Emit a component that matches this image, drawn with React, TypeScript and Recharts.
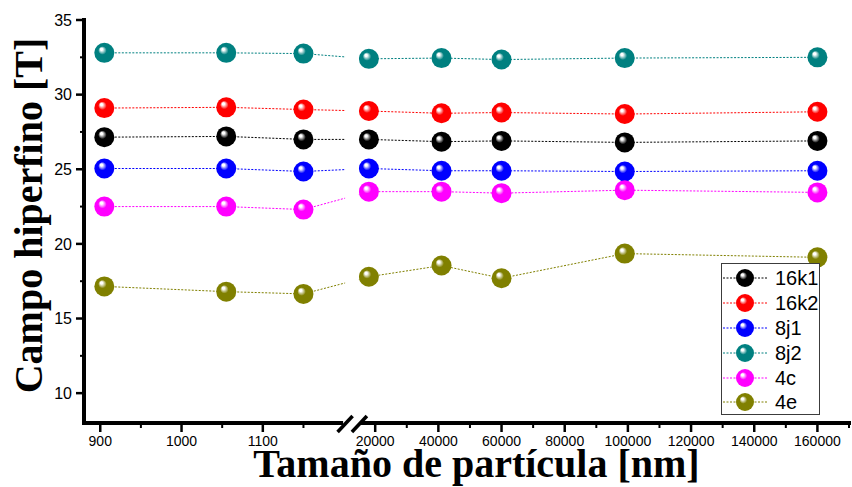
import { LineChart, Line, XAxis, YAxis, Legend, Label } from 'recharts';

// Tamaño de partícula (nm) de cada muestra
const SIZES = [905, 1055, 1150, 18000, 41000, 60000, 99000, 160000];

// Campo hiperfino (T) por sitio
const FIELD_16K1 = [27.15, 27.2, 27.0, 27.0, 26.85, 26.9, 26.8, 26.9];
const FIELD_16K2 = [29.1, 29.15, 29.0, 28.9, 28.75, 28.8, 28.7, 28.85];
const FIELD_8J1 = [25.05, 25.05, 24.85, 25.05, 24.9, 24.9, 24.85, 24.9];
const FIELD_8J2 = [32.8, 32.8, 32.75, 32.4, 32.45, 32.35, 32.45, 32.5];
const FIELD_4C = [22.5, 22.5, 22.3, 23.5, 23.5, 23.4, 23.6, 23.45];
const FIELD_4E = [17.15, 16.8, 16.65, 17.8, 18.55, 17.7, 19.35, 19.1];

const SITES = ['16k1', '16k2', '8j1', '8j2', '4c', '4e'];
const SITE_VALUES = [FIELD_16K1, FIELD_16K2, FIELD_8J1, FIELD_8J2, FIELD_4C, FIELD_4E];
const SITE_COLORS = ['#000000', '#ff0000', '#0000ff', '#008080', '#ff00ff', '#808000'];

// ejes
const X_DOMAIN = [880, 170000];
const X_BREAK = [1200, 15000];
const X_MAJOR = [900, 1000, 1100, 20000, 40000, 60000, 80000, 100000, 120000, 140000, 160000];
const X_MINOR = [950, 1050, 1150, 30000, 50000, 70000, 90000, 110000, 130000, 150000, 170000];
const Y_DOMAIN = [8, 35];
const Y_MAJOR = [10, 15, 20, 25, 30, 35];
const Y_MINOR = [12.5, 17.5, 22.5, 27.5, 32.5];
const TOP_TICKS = [0.5, 1.5, 2.5, 3.5, 4.5, 5.5, 6.5, 7.5, 8.5, 9.5, 10.5, 11.5, 12.5];

const W = 852;
const H = 487;
const MARGIN = { top: 20, right: 3, left: 0, bottom: 0 };
const Y_WIDTH = 84;
const X_HEIGHT = 64;
const SPLIT = 0.34; // fracción del ancho para el tramo izquierdo
const GAP = 0.02; // hueco del corte

const X_TICK_SIZE = 9;
const X_TICK_MARGIN = 4;
const Y_TICK_SIZE = 8;
const Y_TICK_MARGIN = 4;

const SANS = "'Liberation Sans', Arial, sans-serif";
const SERIF = "'Liberation Serif', 'Times New Roman', serif";
const AXIS_LINE = { stroke: '#000', strokeWidth: 4, strokeLinecap: 'square' as const };

const rows = SIZES.map((size, i) => {
  const row: Record<string, number> = { size };
  SITES.forEach((s, k) => {
    row[s] = SITE_VALUES[k][i];
  });
  return row;
});

// escala lineal a tramos con un corte entre X_BREAK[0] y X_BREAK[1]
function brokenScale(lo: number, hi: number, split: number, gap: number): any {
  let dom = [0, 1];
  let rng = [0, 1];
  const s: any = (v: number) => {
    const [d0, d1] = dom;
    const [r0, r1] = rng;
    const w = r1 - r0;
    const leftEnd = r0 + w * split;
    const rightStart = leftEnd + w * gap;
    if (v <= lo) return r0 + ((v - d0) / (lo - d0)) * (leftEnd - r0);
    return rightStart + ((v - hi) / (d1 - hi)) * (r1 - rightStart);
  };
  s.domain = (d?: number[]) => {
    if (!d) return dom.slice();
    dom = [Number(d[0]), Number(d[d.length - 1])];
    return s;
  };
  s.range = (r?: number[]) => {
    if (!r) return rng.slice();
    rng = [Number(r[0]), Number(r[r.length - 1])];
    return s;
  };
  s.copy = () => brokenScale(lo, hi, split, gap).domain(dom).range(rng);
  s.ticks = () => [...X_MAJOR];
  s.tickFormat = () => (v: number) => String(v);
  s.invert = (px: number) => {
    const [d0, d1] = dom;
    const [r0, r1] = rng;
    const w = r1 - r0;
    const leftEnd = r0 + w * split;
    const rightStart = leftEnd + w * gap;
    if (px <= leftEnd) return d0 + ((px - r0) / (leftEnd - r0)) * (lo - d0);
    return hi + ((px - rightStart) / (r1 - rightStart)) * (d1 - hi);
  };
  return s;
}

const sizeScale = brokenScale(X_BREAK[0], X_BREAK[1], SPLIT, GAP);

// geometría del área de trazado para dibujar el corte
const PLOT_LEFT = MARGIN.left + Y_WIDTH;
const PLOT_RIGHT = W - MARGIN.right;
const PLOT_TOP = MARGIN.top;
const PLOT_BOTTOM = H - MARGIN.bottom - X_HEIGHT;
const breakScale = brokenScale(X_BREAK[0], X_BREAK[1], SPLIT, GAP).domain(X_DOMAIN).range([PLOT_LEFT, PLOT_RIGHT]);
const BREAK_X0 = breakScale(X_BREAK[0]);
const BREAK_X1 = breakScale(X_BREAK[1]);

function renderXTick(props: any) {
  const { x, y, payload } = props;
  const major = X_MAJOR.includes(payload.value);
  const axisY = y - X_TICK_SIZE - X_TICK_MARGIN;
  return (
    <g key={`xt-${payload.value}`}>
      <line
        x1={x}
        x2={x}
        y1={axisY}
        y2={axisY + (major ? X_TICK_SIZE : 5)}
        stroke="#000"
        strokeWidth={major ? 2.5 : 2}
      />
      {major && (
        <text x={x} y={y} dy="0.71em" textAnchor="middle" fontSize={14} fontFamily={SANS} fill="#000">
          {payload.value}
        </text>
      )}
    </g>
  );
}

function renderYTick(props: any) {
  const { x, y, payload } = props;
  const major = Y_MAJOR.includes(payload.value);
  const axisX = x + Y_TICK_SIZE + Y_TICK_MARGIN;
  return (
    <g key={`yt-${payload.value}`}>
      <line
        x1={axisX - (major ? Y_TICK_SIZE : 4)}
        x2={axisX}
        y1={y}
        y2={y}
        stroke="#000"
        strokeWidth={major ? 2.5 : 2}
      />
      {major && (
        <text x={x} y={y} dy="0.36em" textAnchor="end" fontSize={16} fontFamily={SANS} fill="#000">
          {payload.value}
        </text>
      )}
    </g>
  );
}

function XTitle(props: any) {
  const vb = props.viewBox;
  return (
    <text
      x={vb.x + vb.width / 2 + 10}
      y={vb.y + 54}
      textAnchor="middle"
      fontFamily={SERIF}
      fontWeight="bold"
      fontSize={40}
      fill="#000"
    >
      Tamaño de partícula [nm]
    </text>
  );
}

function YTitle(props: any) {
  const vb = props.viewBox;
  const cx = vb.x + 42;
  const cy = vb.y + vb.height / 2 - 6;
  return (
    <text
      x={cx}
      y={cy}
      transform={`rotate(-90, ${cx}, ${cy})`}
      textAnchor="middle"
      fontFamily={SERIF}
      fontWeight="bold"
      fontSize={40}
      fill="#000"
    >
      Campo hiperfino [T]
    </text>
  );
}

function SiteLegend() {
  return (
    <div
      style={{
        width: 99,
        height: 152,
        boxSizing: 'border-box',
        border: '1px solid #3c3c3c',
        background: '#fff',
        paddingTop: 2,
      }}
    >
      {SITES.map((s, i) => (
        <div key={s} style={{ display: 'flex', alignItems: 'center', height: 24.8 }}>
          <svg width={50} height={24} style={{ flex: 'none' }}>
            <line x1={1} x2={46} y1={12} y2={12} stroke={SITE_COLORS[i]} strokeWidth={1} strokeDasharray="2 1.5" />
            <circle cx={23} cy={12} r={9} fill={`url(#ball-${i})`} />
          </svg>
          <span style={{ fontFamily: SANS, fontSize: 20, lineHeight: '24px', marginLeft: 3, color: '#000' }}>{s}</span>
        </div>
      ))}
    </div>
  );
}

export default function App() {
  return (
    <div style={{ position: 'absolute', left: 0, top: 0, width: W, height: H, background: '#fff' }}>
      <LineChart width={W} height={H} data={rows} margin={MARGIN}>
        <defs>
          {SITE_COLORS.map((c, i) => (
            <radialGradient key={c} id={`ball-${i}`} cx="50%" cy="50%" r="50%" fx="34%" fy="30%">
              <stop offset="0%" stopColor="#ffffff" />
              <stop offset="12%" stopColor="#ffffff" stopOpacity={0.95} />
              <stop offset="42%" stopColor={c} />
              <stop offset="100%" stopColor={c} />
            </radialGradient>
          ))}
        </defs>
        <XAxis
          xAxisId="x"
          dataKey="size"
          type="number"
          scale={sizeScale}
          domain={X_DOMAIN}
          allowDataOverflow
          ticks={[...X_MAJOR, ...X_MINOR]}
          interval={0}
          height={X_HEIGHT}
          tickSize={X_TICK_SIZE}
          tickMargin={X_TICK_MARGIN}
          tickLine={false}
          tick={renderXTick}
          axisLine={AXIS_LINE}
        >
          <Label content={XTitle} />
        </XAxis>
        <XAxis
          xAxisId="top"
          orientation="top"
          type="number"
          domain={[0, 13]}
          ticks={TOP_TICKS}
          interval={0}
          height={0}
          tickSize={3}
          tickFormatter={() => ''}
          tickLine={{ stroke: '#000', strokeWidth: 1.5 }}
          axisLine={AXIS_LINE}
        />
        <YAxis
          yAxisId="y"
          type="number"
          domain={Y_DOMAIN}
          allowDataOverflow
          ticks={[...Y_MAJOR, ...Y_MINOR]}
          interval={0}
          width={Y_WIDTH}
          tickSize={Y_TICK_SIZE}
          tickMargin={Y_TICK_MARGIN}
          tickLine={false}
          tick={renderYTick}
          axisLine={AXIS_LINE}
        >
          <Label content={YTitle} />
        </YAxis>
        <YAxis
          yAxisId="frame"
          orientation="right"
          type="number"
          domain={Y_DOMAIN}
          width={0}
          tick={false}
          tickLine={false}
          axisLine={AXIS_LINE}
        />
        {SITES.map((s, i) => (
          <Line
            key={s}
            xAxisId="x"
            yAxisId="y"
            type="linear"
            dataKey={s}
            name={s}
            stroke={SITE_COLORS[i]}
            strokeWidth={1}
            strokeDasharray="2 1.5"
            dot={(p: any) => <circle key={`${s}-${p.index}`} cx={p.cx} cy={p.cy} r={10} fill={`url(#ball-${i})`} />}
            activeDot={false}
            isAnimationActive={false}
          />
        ))}
        <Legend
          layout="vertical"
          align="center"
          verticalAlign="middle"
          content={() => <SiteLegend />}
          wrapperStyle={{ left: 721, top: 263, width: 99, height: 152 }}
        />
      </LineChart>
      {/* corte del eje x */}
      <svg width={W} height={H} style={{ position: 'absolute', left: 0, top: 0, pointerEvents: 'none' }}>
        <rect
          x={BREAK_X0 + 1}
          y={PLOT_TOP + 3}
          width={BREAK_X1 - BREAK_X0 - 1.5}
          height={PLOT_BOTTOM - PLOT_TOP - 6}
          fill="#fff"
        />
        <rect x={BREAK_X0 - 1} y={PLOT_BOTTOM - 3} width={BREAK_X1 - BREAK_X0 + 2} height={6} fill="#fff" />
        <line
          x1={BREAK_X0 + 1 - 7.5}
          y1={PLOT_BOTTOM + 9}
          x2={BREAK_X0 + 1 + 7.5}
          y2={PLOT_BOTTOM - 7}
          stroke="#000"
          strokeWidth={3.5}
        />
        <line
          x1={BREAK_X1 - 7.5}
          y1={PLOT_BOTTOM + 9}
          x2={BREAK_X1 + 7.5}
          y2={PLOT_BOTTOM - 7}
          stroke="#000"
          strokeWidth={3.5}
        />
      </svg>
    </div>
  );
}
